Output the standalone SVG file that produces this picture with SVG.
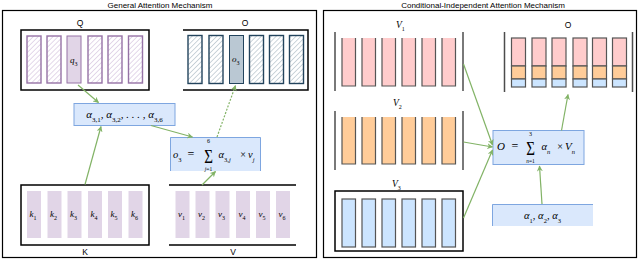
<svg xmlns="http://www.w3.org/2000/svg" width="640" height="260" viewBox="0 0 640 260">
<defs>
<pattern id="hq" width="3.5" height="3.5" patternUnits="userSpaceOnUse" patternTransform="rotate(45)">
<rect width="3.5" height="3.5" fill="#ffffff"/>
<line x1="0" y1="0" x2="0" y2="3.5" stroke="#c9b3d6" stroke-width="1"/>
</pattern>
<pattern id="ho" width="3.5" height="3.5" patternUnits="userSpaceOnUse" patternTransform="rotate(45)">
<rect width="3.5" height="3.5" fill="#ffffff"/>
<line x1="0" y1="0" x2="0" y2="3.5" stroke="#9aabb8" stroke-width="1"/>
</pattern>
<marker id="ah" viewBox="0 0 10 10" refX="9" refY="5" markerWidth="6" markerHeight="6" orient="auto" markerUnits="userSpaceOnUse">
<path d="M0,0 L10,5 L0,10 L3,5 Z" fill="#82b366"/>
</marker>
</defs>
<style>
.title{font-family:"Liberation Sans",Arial,sans-serif;font-size:8px;fill:#000}
.lab{font-family:"Liberation Sans",Arial,sans-serif;font-size:8.5px;fill:#000;text-anchor:middle}
.m{font-family:"Liberation Serif","Times New Roman",serif;font-style:italic;fill:#000}
.mn{font-family:"Liberation Serif","Times New Roman",serif;fill:#000}
.panel{fill:none;stroke:#000;stroke-width:1.2}
.frame{fill:none;stroke:#000;stroke-width:1.5}
.qbar{fill:url(#hq);stroke:#9673a6;stroke-width:1.4}
.qsel{fill:#e1d5e7;stroke:#9673a6;stroke-width:1}
.obar{fill:url(#ho);stroke:#23445d;stroke-width:1.4}
.osel{fill:#bac8d3;stroke:#23445d;stroke-width:1}
.kbar{fill:#e1d5e7}
.box{fill:#dae8fc;stroke:#7ea6e0;stroke-width:1}
.boxf{fill:#dae8fc}
.boxs{fill:none;stroke:#7ea6e0;stroke-width:1}
.gl{stroke:#4d4d4d;stroke-width:1.5;fill:none}
.pk{fill:#ffcccc}
.or{fill:#ffcc99}
.bl{fill:#cce5ff}
.st{stroke:#555;stroke-width:1.2}
.bsp{fill:none;stroke:#555;stroke-width:1.2}
.cn{fill:none;stroke:#82b366;stroke-width:1.2;marker-end:url(#ah)}
.dot{stroke-dasharray:2 1.5}
</style>

<g id="panel-general">
<rect class="panel" x="2.5" y="10.5" width="314" height="247"/>
<text class="title" x="160" y="7.5" text-anchor="middle">General Attention Mechanism</text>
</g>
<g id="panel-conditional">
<rect class="panel" x="323.5" y="10.5" width="313" height="247"/>
<text class="title" x="483" y="7.5" text-anchor="middle">Conditional-Independent Attention Mechanism</text>
</g>

<g id="node-Q">
<text class="lab" x="80" y="26">Q</text>
<rect class="frame" x="21" y="30" width="128" height="60"/>
<rect class="qbar" x="27" y="36" width="14" height="47"/>
<rect class="qbar" x="47" y="36" width="14" height="47"/>
<rect class="qsel" x="67" y="36" width="14" height="47"/>
<rect class="qbar" x="88" y="36" width="14" height="47"/>
<rect class="qbar" x="108" y="36" width="14" height="47"/>
<rect class="qbar" x="128.5" y="36" width="14" height="47"/>
<text class="m" x="70" y="63" font-size="9">q<tspan font-size="6" baseline-shift="sub" font-style="normal">3</tspan></text>
</g>

<g id="node-O-general">
<text class="lab" x="245" y="26">O</text>
<path class="frame" d="M183,30 H308 V90 H183"/>
<rect class="obar" x="188" y="35.5" width="14" height="48"/>
<rect class="obar" x="209" y="35.5" width="14" height="48"/>
<rect class="osel" x="229.5" y="35.5" width="14" height="48"/>
<rect class="obar" x="249.5" y="35.5" width="14" height="48"/>
<rect class="obar" x="269.5" y="35.5" width="14" height="48"/>
<rect class="obar" x="289.5" y="35.5" width="14" height="48"/>
<text class="m" x="232" y="62" font-size="9">o<tspan font-size="6" baseline-shift="sub" font-style="normal">3</tspan></text>
</g>

<g id="node-alpha-general">
<rect class="box" x="74" y="103.5" width="101" height="22"/>
<text class="m" x="124.5" y="117.5" font-size="11" text-anchor="middle">α<tspan font-size="7" baseline-shift="sub" font-style="normal">3,1</tspan>, α<tspan font-size="7" baseline-shift="sub" font-style="normal">3,2</tspan>, . . . , α<tspan font-size="7" baseline-shift="sub" font-style="normal">3,6</tspan></text>
</g>

<g id="node-sum-general">
<rect class="boxf" x="170" y="137" width="91" height="34"/>
<path class="boxs" d="M170.5,171 V137.5 H260.5 V171"/>
<text class="m" x="173" y="157.5" font-size="10.5">o<tspan font-size="6.5" baseline-shift="sub" font-style="normal">3</tspan></text>
<text class="mn" x="191" y="157.5" font-size="12" text-anchor="middle">=</text>
<text class="mn" font-size="15" text-anchor="middle" transform="translate(208.5,162.5) scale(1,1.3)">Σ</text>
<text class="mn" x="208.5" y="142.5" font-size="6" text-anchor="middle">6</text>
<text class="m" x="208.5" y="170.5" font-size="5.5" text-anchor="middle">j<tspan font-style="normal">=1</tspan></text>
<text class="m" x="218.5" y="157.5" font-size="10.5">α<tspan font-size="6.5" baseline-shift="sub" font-style="normal">3,<tspan font-style="italic">j</tspan></tspan></text>
<text class="mn" x="243" y="157.5" font-size="10" text-anchor="middle">×</text>
<text class="m" x="248" y="157.5" font-size="10.5">v<tspan font-size="6.5" baseline-shift="sub">j</tspan></text>
</g>

<g id="node-K">
<rect class="frame" x="21" y="185" width="128" height="60"/>
<rect class="kbar" x="27" y="191" width="14" height="47"/>
<rect class="kbar" x="47.5" y="191" width="14" height="47"/>
<rect class="kbar" x="67.5" y="191" width="14" height="47"/>
<rect class="kbar" x="88" y="191" width="14" height="47"/>
<rect class="kbar" x="108" y="191" width="14" height="47"/>
<rect class="kbar" x="128.5" y="191" width="14" height="47"/>
<g class="m" font-size="9">
<text x="29.5" y="217">k<tspan font-size="6" baseline-shift="sub" font-style="normal">1</tspan></text>
<text x="50" y="217">k<tspan font-size="6" baseline-shift="sub" font-style="normal">2</tspan></text>
<text x="70" y="217">k<tspan font-size="6" baseline-shift="sub" font-style="normal">3</tspan></text>
<text x="90.5" y="217">k<tspan font-size="6" baseline-shift="sub" font-style="normal">4</tspan></text>
<text x="110.5" y="217">k<tspan font-size="6" baseline-shift="sub" font-style="normal">5</tspan></text>
<text x="131" y="217">k<tspan font-size="6" baseline-shift="sub" font-style="normal">6</tspan></text>
</g>
<text class="lab" x="85" y="255">K</text>
</g>

<g id="node-V">
<path class="frame" d="M169,185 H296 M169,245 H296"/>
<rect class="kbar" x="175.5" y="191" width="14" height="47"/>
<rect class="kbar" x="195.5" y="191" width="14" height="47"/>
<rect class="kbar" x="215.5" y="191" width="14" height="47"/>
<rect class="kbar" x="236" y="191" width="14" height="47"/>
<rect class="kbar" x="256" y="191" width="14" height="47"/>
<rect class="kbar" x="276" y="191" width="14" height="47"/>
<g class="m" font-size="9">
<text x="178" y="217">v<tspan font-size="6" baseline-shift="sub" font-style="normal">1</tspan></text>
<text x="198" y="217">v<tspan font-size="6" baseline-shift="sub" font-style="normal">2</tspan></text>
<text x="218" y="217">v<tspan font-size="6" baseline-shift="sub" font-style="normal">3</tspan></text>
<text x="238.5" y="217">v<tspan font-size="6" baseline-shift="sub" font-style="normal">4</tspan></text>
<text x="258.5" y="217">v<tspan font-size="6" baseline-shift="sub" font-style="normal">5</tspan></text>
<text x="278.5" y="217">v<tspan font-size="6" baseline-shift="sub" font-style="normal">6</tspan></text>
</g>
<text class="lab" x="233" y="255">V</text>
</g>

<g id="node-V1">
<text class="m" x="396" y="28" font-size="9.5">V<tspan font-size="6" baseline-shift="sub" font-style="normal">1</tspan></text>
<path class="gl" d="M335,32 V91 M463,32 V91"/>
<rect class="pk" x="342" y="38" width="13.5" height="48"/>
<rect class="pk" x="362" y="38" width="13.5" height="48"/>
<rect class="pk" x="382" y="38" width="13.5" height="48"/>
<rect class="pk" x="402" y="38" width="13.5" height="48"/>
<rect class="pk" x="422" y="38" width="13.5" height="48"/>
<rect class="pk" x="442" y="38" width="13.5" height="48"/>
<path class="bsp" d="M342,38 V86 H355.5 V38 M362,38 V86 H375.5 V38 M382,38 V86 H395.5 V38 M402,38 V86 H415.5 V38 M422,38 V86 H435.5 V38 M442,38 V86 H455.5 V38"/>
</g>

<g id="node-V2">
<text class="m" x="393" y="106" font-size="9.5">V<tspan font-size="6" baseline-shift="sub" font-style="normal">2</tspan></text>
<path class="gl" d="M335,111 V170 M463,111 V170"/>
<rect class="or" x="342" y="117" width="13.5" height="47"/>
<rect class="or" x="362" y="117" width="13.5" height="47"/>
<rect class="or" x="382" y="117" width="13.5" height="47"/>
<rect class="or" x="402" y="117" width="13.5" height="47"/>
<rect class="or" x="422" y="117" width="13.5" height="47"/>
<rect class="or" x="442" y="117" width="13.5" height="47"/>
<path class="bsp" d="M342,117 V164 H355.5 V117 M362,117 V164 H375.5 V117 M382,117 V164 H395.5 V117 M402,117 V164 H415.5 V117 M422,117 V164 H435.5 V117 M442,117 V164 H455.5 V117"/>
</g>

<g id="node-V3">
<text class="m" x="392" y="187" font-size="9.5">V<tspan font-size="6" baseline-shift="sub" font-style="normal">3</tspan></text>
<rect class="frame" x="335" y="191" width="128" height="60"/>
<rect class="bl st" x="342" y="199" width="13.5" height="48"/>
<rect class="bl st" x="362" y="199" width="13.5" height="48"/>
<rect class="bl st" x="382" y="199" width="13.5" height="48"/>
<rect class="bl st" x="402" y="199" width="13.5" height="48"/>
<rect class="bl st" x="422" y="199" width="13.5" height="48"/>
<rect class="bl st" x="442" y="199" width="13.5" height="48"/>
</g>

<g id="node-O-conditional">
<text class="lab" x="568" y="28">O</text>
<path class="gl" d="M504.5,32 V92 M632.5,32 V92"/>
<rect class="pk st" x="511.5" y="38" width="14" height="28"/>
<rect class="or st" x="511.5" y="66" width="14" height="13"/>
<rect class="bl st" x="511.5" y="79" width="14" height="8"/>
<rect class="pk st" x="532" y="38" width="14" height="28"/>
<rect class="or st" x="532" y="66" width="14" height="13"/>
<rect class="bl st" x="532" y="79" width="14" height="8"/>
<rect class="pk st" x="552" y="38" width="14" height="28"/>
<rect class="or st" x="552" y="66" width="14" height="13"/>
<rect class="bl st" x="552" y="79" width="14" height="8"/>
<rect class="pk st" x="573" y="38" width="14" height="28"/>
<rect class="or st" x="573" y="66" width="14" height="13"/>
<rect class="bl st" x="573" y="79" width="14" height="8"/>
<rect class="pk st" x="592.5" y="38" width="14" height="28"/>
<rect class="or st" x="592.5" y="66" width="14" height="13"/>
<rect class="bl st" x="592.5" y="79" width="14" height="8"/>
<rect class="pk st" x="612.5" y="38" width="14" height="28"/>
<rect class="or st" x="612.5" y="66" width="14" height="13"/>
<rect class="bl st" x="612.5" y="79" width="14" height="8"/>
</g>

<g id="node-sum-conditional">
<rect class="box" x="493" y="130.5" width="91" height="34"/>
<text class="m" x="497" y="149.5" font-size="11">O</text>
<text class="mn" x="515" y="149.5" font-size="12" text-anchor="middle">=</text>
<text class="mn" font-size="15" text-anchor="middle" transform="translate(530.5,154.5) scale(1,1.3)">Σ</text>
<text class="mn" x="530.5" y="136" font-size="6" text-anchor="middle">3</text>
<text class="m" x="530.5" y="163" font-size="5.5" text-anchor="middle">n<tspan font-style="normal">=1</tspan></text>
<text class="m" x="541.5" y="149.5" font-size="10.5">α<tspan font-size="6.5" baseline-shift="sub">n</tspan></text>
<text class="mn" x="560" y="149.5" font-size="10" text-anchor="middle">×</text>
<text class="m" x="565" y="149.5" font-size="11">V<tspan font-size="6.5" baseline-shift="sub">n</tspan></text>
</g>

<g id="node-alpha-conditional">
<rect class="boxf" x="492" y="204" width="101" height="22"/>
<path class="boxs" d="M492.5,226 V204.5 H593"/>
<text class="m" x="542.5" y="219" font-size="10.5" text-anchor="middle">α<tspan font-size="6.5" baseline-shift="sub" font-style="normal">1</tspan>, α<tspan font-size="6.5" baseline-shift="sub" font-style="normal">2</tspan>, α<tspan font-size="6.5" baseline-shift="sub" font-style="normal">3</tspan></text>
</g>

<g id="connectors">
<path class="cn" d="M78,85 L98.5,102.5"/>
<path class="cn" d="M85,184.5 L101,126.5"/>
<path class="cn" d="M151,125.5 L192.5,137"/>
<path class="cn" d="M202,185 L215.5,171.5"/>
<path class="cn dot" d="M217,137 L235.5,85.5"/>
<path class="cn" d="M463.5,64 L492.5,145"/>
<path class="cn" d="M463.5,142 L492.5,147"/>
<path class="cn" d="M463.5,218 L492.5,150"/>
<path class="cn" d="M542,204 L539.5,166"/>
<path class="cn" d="M561.5,130.5 L568,94.5"/>
</g>
</svg>
